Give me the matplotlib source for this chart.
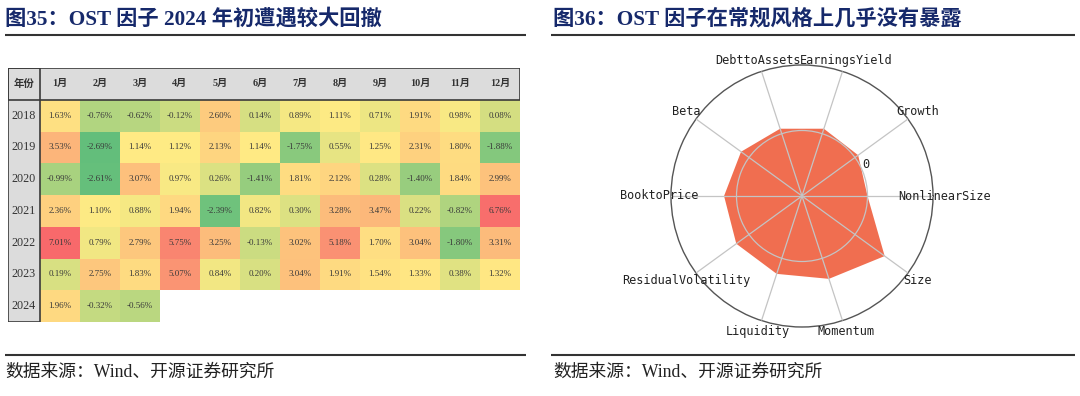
import numpy as np
import matplotlib
matplotlib.use('Agg')
import matplotlib.pyplot as plt
from matplotlib.colors import LinearSegmentedColormap, TwoSlopeNorm
from matplotlib.patches import Rectangle

# 字体：西文用 Liberation Serif，中文回落到 Noto Sans CJK SC
plt.rcParams['font.family'] = ['Liberation Serif', 'Noto Sans CJK SC', 'DejaVu Sans']
plt.rcParams['axes.unicode_minus'] = False

# ---------------- 数据 ----------------
years = ['2018', '2019', '2020', '2021', '2022', '2023', '2024']
months = ['1月', '2月', '3月', '4月', '5月', '6月', '7月', '8月', '9月', '10月', '11月', '12月']

ret_2018 = [1.63, -0.76, -0.62, -0.12, 2.60, 0.14, 0.89, 1.11, 0.71, 1.91, 0.98, 0.08]
ret_2019 = [3.53, -2.69, 1.14, 1.12, 2.13, 1.14, -1.75, 0.55, 1.25, 2.31, 1.80, -1.88]
ret_2020 = [-0.99, -2.61, 3.07, 0.97, 0.26, -1.41, 1.81, 2.12, 0.28, -1.40, 1.84, 2.99]
ret_2021 = [2.36, 1.10, 0.88, 1.94, -2.39, 0.82, 0.30, 3.28, 3.47, 0.22, -0.82, 6.76]
ret_2022 = [7.01, 0.79, 2.79, 5.75, 3.25, -0.13, 3.02, 5.18, 1.70, 3.04, -1.80, 3.31]
ret_2023 = [0.19, 2.75, 1.83, 5.07, 0.84, 0.20, 3.04, 1.91, 1.54, 1.33, 0.38, 1.32]
ret_2024 = [1.96, -0.32, -0.56]

factors = ['NonlinearSize', 'Growth', 'EarningsYield', 'DebttoAssets', 'Beta',
           'BooktoPrice', 'ResidualVolatility', 'Liquidity', 'Momentum', 'Size']
exposure = [0.0, 0.06, 0.08, 0.08, 0.15, 0.19, 0.24, 0.25, 0.33, 0.56]

# ---------------- 画布 ----------------
W, H = 1080, 396
fig = plt.figure(figsize=(W / 100, H / 100), dpi=100)

# 背景层：标题、分隔线、数据来源（像素坐标）
bg = fig.add_axes([0, 0, 1, 1])
bg.set_xlim(0, W)
bg.set_ylim(H, 0)
bg.axis('off')

title_color = '#16296b'
bg.text(5, 19, '图35：OST 因子 2024 年初遭遇较大回撤', fontsize=15.3, fontweight='bold',
        color=title_color, va='center', ha='left')
bg.text(553, 19, '图36：OST 因子在常规风格上几乎没有暴露', fontsize=15.3, fontweight='bold',
        color=title_color, va='center', ha='left')
for x0, x1 in [(5, 526), (551, 1075)]:
    bg.plot([x0, x1], [35, 35], color='#333333', lw=1.5, solid_capstyle='butt')
    bg.plot([x0, x1], [355, 355], color='#333333', lw=1.5, solid_capstyle='butt')
bg.text(5, 372, '数据来源：Wind、开源证券研究所', fontsize=12.8, color='#222222', va='center')
bg.text(553, 372, '数据来源：Wind、开源证券研究所', fontsize=12.8, color='#222222', va='center')

# ---------------- 左图：月度收益热力表 ----------------
rows = [ret_2018, ret_2019, ret_2020, ret_2021, ret_2022, ret_2023, ret_2024]
data = np.full((len(years), len(months)), np.nan)
for i, r in enumerate(rows):
    data[i, :len(r)] = r
masked = np.ma.masked_invalid(data)

vmin, vmax = np.nanmin(data), np.nanmax(data)
vmid = np.nanpercentile(data, 50)
cmap = LinearSegmentedColormap.from_list('excel3', ['#63BE7B', '#FFEB84', '#F8696B'])
norm = TwoSlopeNorm(vmin=vmin, vcenter=vmid, vmax=vmax)

yc = 0.8  # 年份列宽（以月份列宽为单位）
ax = fig.add_axes([8 / W, (H - 322) / H, 512 / W, 254 / H])
ax.pcolormesh(np.arange(13), np.arange(8), masked, cmap=cmap, norm=norm, shading='flat')
ax.set_xlim(-yc, 12)
ax.set_ylim(7, -1)
ax.axis('off')

gray = '#dcdcdc'
edge = '#3a3a3a'
ax.add_patch(Rectangle((-yc, -1), 12 + yc, 1, fc=gray, ec=edge, lw=1.2, zorder=3))
ax.add_patch(Rectangle((-yc, 0), yc, 7, fc=gray, ec='none', zorder=2))
ax.add_patch(Rectangle((-yc, -1), yc, 8, fc='none', ec=edge, lw=1.2, zorder=4))

ax.text(-yc / 2, -0.5, '年份', ha='center', va='center', fontsize=7.5,
        fontweight='bold', color='#333333', zorder=5)
for j, m in enumerate(months):
    ax.text(j + 0.5, -0.5, m, ha='center', va='center', fontsize=7.3,
            fontweight='bold', color='#333333', zorder=5)
for i, y in enumerate(years):
    ax.text(-yc / 2, i + 0.5, y, ha='center', va='center', fontsize=8.7,
            color='#333333', zorder=5)
    for j, v in enumerate(rows[i]):
        ax.text(j + 0.5, i + 0.5, f'{v:.2f}%', ha='center', va='center',
                fontsize=6.5, color='#3a3a3a', zorder=5)

# ---------------- 右图：风格暴露雷达图 ----------------
theta = np.linspace(0, 2 * np.pi, len(factors), endpoint=False)
th_c = np.concatenate([theta, theta[:1]])
ex_c = np.concatenate([exposure, exposure[:1]])

pax = fig.add_axes([671 / W, (H - 327) / H, 262 / W, 262 / H], projection='polar')
pax.fill(th_c, ex_c, color='#F06E50', lw=0, zorder=1)
pax.set_ylim(-1, 1)
pax.set_yticks([0])
pax.set_yticklabels([])
pax.set_xticks(theta)
pax.set_xticklabels([])
pax.set_axisbelow(False)
pax.grid(color='#c4c4c4', lw=0.9)
pax.spines['polar'].set_color('#555555')
pax.spines['polar'].set_linewidth(1.0)
pax.set_facecolor('white')

for t, name in zip(theta, factors):
    pax.text(t, 1.183, name, ha='center', va='center', fontsize=8.6,
             family='DejaVu Sans Mono', color='#222222', clip_on=False)
pax.text(np.deg2rad(26.5), 0.09, '0', ha='center', va='center', fontsize=8.6,
         family='DejaVu Sans Mono', color='#222222')

fig.savefig('out.png', dpi=100)
